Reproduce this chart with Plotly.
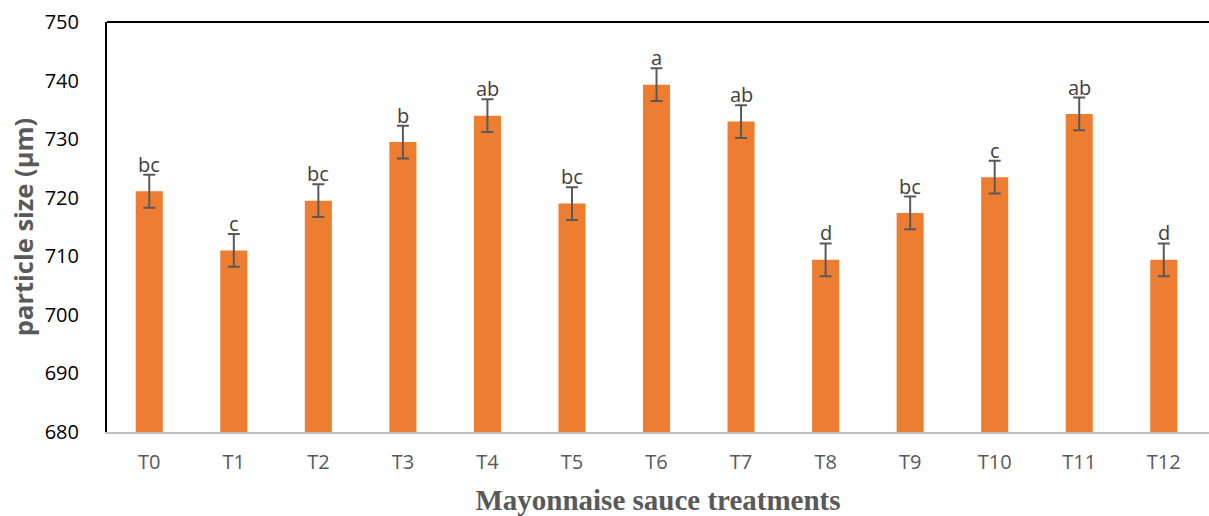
import plotly.graph_objects as go

# Particle size of mayonnaise sauce treatments (mean ± error, with significance letters)
treatments = ["T0", "T1", "T2", "T3", "T4", "T5", "T6", "T7", "T8", "T9", "T10", "T11", "T12"]
particle_size = [721.1, 711.0, 719.5, 729.5, 734.0, 719.0, 739.3, 733.0, 709.4, 717.4, 723.5, 734.3, 709.4]
error = [2.8, 2.8, 2.8, 2.8, 2.8, 2.8, 2.8, 2.8, 2.8, 2.8, 2.8, 2.8, 2.8]
letters = ["bc", "c", "bc", "b", "ab", "bc", "a", "ab", "d", "bc", "c", "ab", "d"]

y_ticks = [680, 690, 700, 710, 720, 730, 740, 750]

SANS = "Open Sans, sans-serif"

fig = go.Figure()
fig.add_trace(go.Bar(
    x=treatments,
    y=particle_size,
    base=0,
    width=0.32,
    marker=dict(color="#ED7D31", line=dict(width=0)),
    error_y=dict(type="data", array=error, visible=True,
                 color="#595959", thickness=2, width=6),
    showlegend=False,
))

# Significance letters sitting on top of the error caps
for t, v, e, s in zip(treatments, particle_size, error, letters):
    fig.add_annotation(
        x=t, y=v + e, text=s, showarrow=False,
        xref="x", yref="y", yanchor="bottom", yshift=-5,
        font=dict(family=SANS, size=20, color="#404040"),
    )

# Top border of the plot area
fig.add_shape(type="line", xref="paper", yref="paper",
              x0=0, x1=1, y0=1, y1=1,
              line=dict(color="black", width=2))

fig.update_layout(
    width=1209, height=516,
    margin=dict(l=107, r=0, t=22, b=84),
    plot_bgcolor="white", paper_bgcolor="white",
    xaxis=dict(
        categoryorder="array", categoryarray=treatments,
        range=[-0.5, 12.535],
        showline=True, linecolor="#BFBFBF", linewidth=2,
        showgrid=False, ticks="",
        tickfont=dict(family=SANS, size=20, color="#595959"),
        ticklabelstandoff=11,
        title=dict(text="<b>Mayonnaise sauce treatments</b>",
                   font=dict(family="Liberation Serif, Times New Roman, serif", size=29, color="#595959"),
                   standoff=17),
    ),
    yaxis=dict(
        range=[680, 750],
        tickvals=y_ticks,
        showline=True, linecolor="black", linewidth=2,
        showgrid=False, ticks="", zeroline=False,
        tickfont=dict(family=SANS, size=20, color="black"),
        ticklabelstandoff=22,
        title=dict(text="<b>particle size (µm)</b>",
                   font=dict(family=SANS, size=25.5, color="#595959"),
                   standoff=4),
    ),
)

fig.write_html("out.html")
